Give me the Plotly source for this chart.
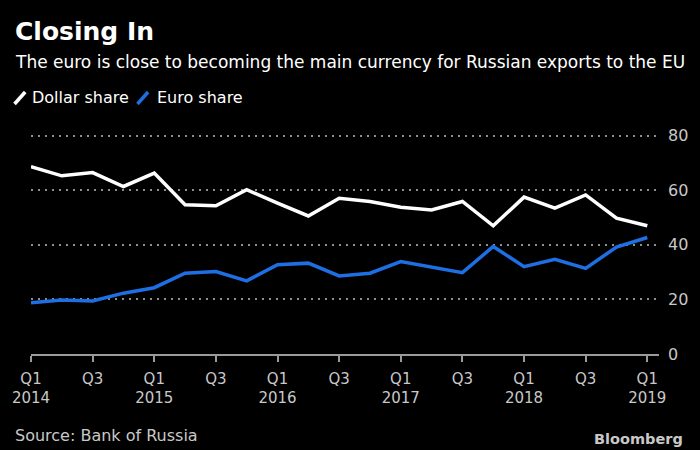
import plotly.graph_objects as go

# ---- data ----
quarters = ["2014 Q1", "2014 Q2", "2014 Q3", "2014 Q4",
            "2015 Q1", "2015 Q2", "2015 Q3", "2015 Q4",
            "2016 Q1", "2016 Q2", "2016 Q3", "2016 Q4",
            "2017 Q1", "2017 Q2", "2017 Q3", "2017 Q4",
            "2018 Q1", "2018 Q2", "2018 Q3", "2018 Q4",
            "2019 Q1"]
dollar_share = [68.7, 65.3, 66.5, 61.4, 66.3, 54.7, 54.3, 60.2, 55.3, 50.6,
                57.1, 55.9, 53.8, 52.8, 55.9, 47.0, 57.5, 53.5, 58.3, 49.8, 47.0]
euro_share = [18.8, 19.8, 19.4, 22.3, 24.3, 29.6, 30.2, 26.8, 32.7, 33.3,
              28.6, 29.6, 33.9, 31.8, 29.8, 39.4, 32.0, 34.7, 31.4, 39.2, 42.7]
tick_quarters = quarters[::2]
tick_labels = ["Q1<br>2014", "Q3", "Q1<br>2015", "Q3", "Q1<br>2016", "Q3",
               "Q1<br>2017", "Q3", "Q1<br>2018", "Q3", "Q1<br>2019"]
y_ticks = [0, 20, 40, 60, 80]

W, H = 700, 450
ML, MR, MT, MB = 21, 30, 133, 96
PW = W - ML - MR
PH = H - MT - MB


def px(x):
    return (x - ML) / PW


def py(y):
    return (H - MB - y) / PH


FONT = "DejaVu Sans"
GRAY = "#c8c8c8"
BLUE = "#1e6fe3"

fig = go.Figure()
fig.add_trace(go.Scatter(x=quarters, y=dollar_share, mode="lines",
                         line=dict(color="#ffffff", width=3.5),
                         name="Dollar share"))
fig.add_trace(go.Scatter(x=quarters, y=euro_share, mode="lines",
                         line=dict(color=BLUE, width=3.5),
                         name="Euro share"))

fig.update_layout(
    width=W, height=H,
    margin=dict(l=ML, r=MR, t=MT, b=MB, pad=0),
    paper_bgcolor="#000000", plot_bgcolor="#000000",
    showlegend=False,
    font=dict(family=FONT, color=GRAY),
    xaxis=dict(
        type="category",
        range=[0, 20.38],
        tickvals=tick_quarters, ticktext=tick_labels,
        showgrid=False, zeroline=False,
        showline=True, linecolor="#9a9a9a", linewidth=1.5,
        ticks="outside", ticklen=6, tickwidth=1.5, tickcolor="#9a9a9a",
        ticklabelstandoff=4,
        tickfont=dict(family=FONT, size=15, color=GRAY),
        fixedrange=True,
    ),
    yaxis=dict(
        range=[0, 81], side="right",
        tickvals=y_ticks,
        showgrid=True, gridcolor="#8f8f8f", gridwidth=1.5, griddash="2px,5px",
        zeroline=False, showline=False, ticks="",
        ticklabelstandoff=8,
        tickfont=dict(family=FONT, size=16, color=GRAY),
        fixedrange=True,
    ),
)

ann = []
ann.append(dict(text="<b>Closing In</b>", x=px(2), y=py(31), xanchor="left",
                yanchor="middle", font=dict(family=FONT, size=25, color="#ffffff")))
ann.append(dict(text="The euro is close to becoming the main currency for Russian exports to the EU",
                x=px(2), y=py(62), xanchor="left", yanchor="middle",
                font=dict(family=FONT, size=17, color="#ffffff")))
ann.append(dict(text="Dollar share", x=px(20), y=py(98), xanchor="left", yanchor="middle",
                font=dict(family=FONT, size=16, color="#ffffff")))
ann.append(dict(text="Euro share", x=px(149), y=py(98), xanchor="left", yanchor="middle",
                font=dict(family=FONT, size=16, color="#ffffff")))
ann.append(dict(text="Source: Bank of Russia", x=px(2), y=py(435), xanchor="left",
                yanchor="middle", font=dict(family=FONT, size=16, color=GRAY)))
ann.append(dict(text="<b>Bloomberg</b>", x=px(697), y=py(439), xanchor="right",
                yanchor="middle", font=dict(family=FONT, size=14.5, color=GRAY)))
for a in ann:
    a.update(xref="paper", yref="paper", showarrow=False)
fig.update_layout(annotations=ann)

shapes = [
    dict(type="line", xref="paper", yref="paper", x0=px(4), y0=py(104), x1=px(15), y1=py(92),
         line=dict(color="#ffffff", width=3.5)),
    dict(type="line", xref="paper", yref="paper", x0=px(131), y0=py(104), x1=px(142), y1=py(92),
         line=dict(color=BLUE, width=3.5)),
]
fig.update_layout(shapes=shapes)

fig.write_html("out.html", config={"displayModeBar": False},
               post_script="document.body.style.margin='0';document.body.style.background='#000';")
